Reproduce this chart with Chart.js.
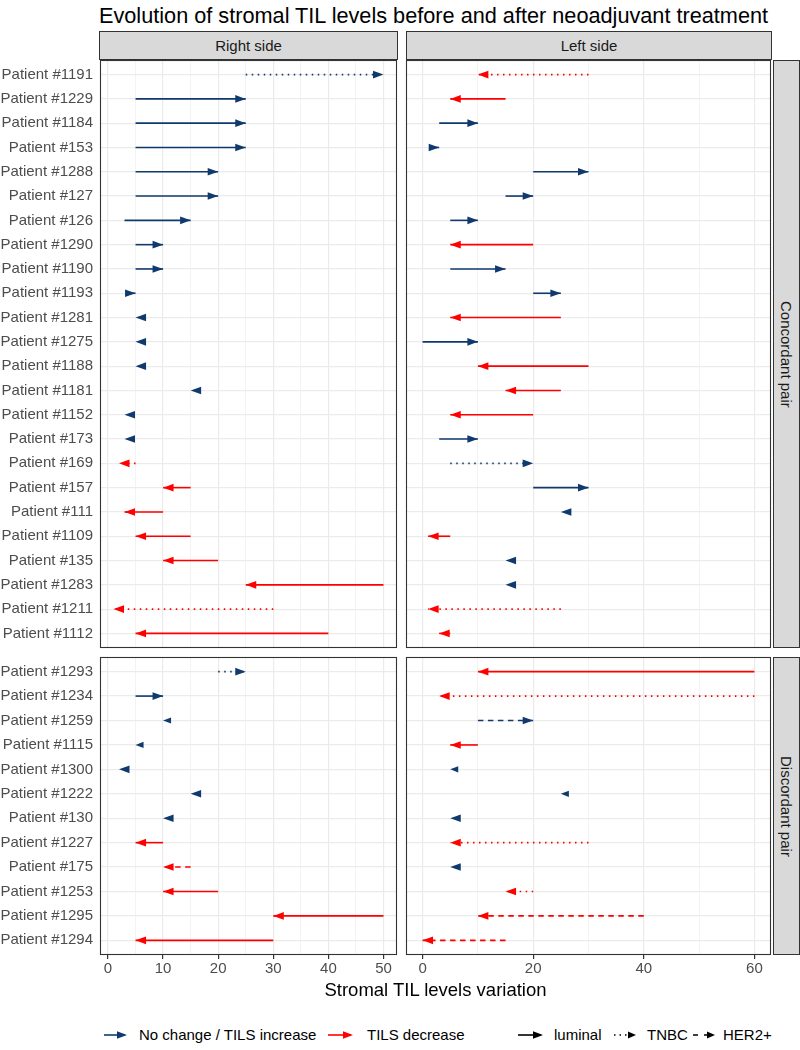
<!DOCTYPE html>
<html>
<head>
<meta charset="utf-8">
<script src="https://cdn.jsdelivr.net/npm/chart.js@4.4.0/dist/chart.umd.min.js"></script>
<style>
  body { margin: 0; background: #fff; font-family: "Liberation Sans", Arial, sans-serif; }
  #wrap { position: relative; width: 800px; height: 1050px; overflow: hidden; }
  #wrap canvas, .strip, .txt, .key { position: absolute; }
  .strip { background: #d9d9d9; border: 1px solid #333; box-sizing: border-box; color: #1a1a1a;
           font-size: 15px; display: flex; align-items: center; justify-content: center; }
  .vert { writing-mode: vertical-rl; }
  .txt { white-space: nowrap; color: #000; }
  .leg { font-size: 15px; top: 1026px; }
</style>
</head>
<body>
<div id="wrap">
  <div class="txt" style="left:99px; top:3px; font-size:21.7px;">Evolution of stromal TIL levels before and after neoadjuvant treatment</div>

  <div class="strip" style="left:99px; top:31px; width:299px; height:29px;">Right side</div>
  <div class="strip" style="left:406px; top:31px; width:366px; height:29px;">Left side</div>
  <div class="strip vert" style="left:773px; top:60px; width:27px; height:588px;">Concordant pair</div>
  <div class="strip vert" style="left:773px; top:657px; width:27px; height:298px;">Discordant pair</div>

  <canvas id="rc" width="400" height="594" style="left:0; top:57px;"></canvas>
  <canvas id="lc" width="369" height="594" style="left:403px; top:57px;"></canvas>
  <canvas id="rd" width="400" height="331" style="left:0; top:654px;"></canvas>
  <canvas id="ld" width="369" height="331" style="left:403px; top:654px;"></canvas>

  <div class="txt" style="left:0; width:871px; text-align:center; top:979px; font-size:18.5px;">Stromal TIL levels variation</div>

  <svg class="key" style="left:103px; top:1028px;" width="26" height="14"><line x1="1" y1="7" x2="22" y2="7" stroke="#103a6e" stroke-width="1.6"/><polygon points="24,7 14,3.2 14,10.8" fill="#103a6e"/></svg>
  <div class="txt leg" style="left:139px;">No change / TILS increase</div>
  <svg class="key" style="left:327px; top:1028px;" width="28" height="14"><line x1="1" y1="7" x2="24" y2="7" stroke="#ff0000" stroke-width="1.6"/><polygon points="26,7 16,3.2 16,10.8" fill="#ff0000"/></svg>
  <div class="txt leg" style="left:367px;">TILS decrease</div>
  <svg class="key" style="left:517px; top:1028px;" width="28" height="14"><line x1="1" y1="7" x2="24" y2="7" stroke="#000" stroke-width="1.6"/><polygon points="26,7 16,3.2 16,10.8" fill="#000"/></svg>
  <div class="txt leg" style="left:554px;">luminal</div>
  <svg class="key" style="left:612px; top:1028px;" width="26" height="14"><line x1="2" y1="7" x2="18" y2="7" stroke="#000" stroke-width="1.6" stroke-dasharray="1.5 4"/><polygon points="24,7 16,3.4 16,10.6" fill="#000"/></svg>
  <div class="txt leg" style="left:647px;">TNBC</div>
  <svg class="key" style="left:691px; top:1028px;" width="26" height="14"><line x1="2" y1="7" x2="18" y2="7" stroke="#000" stroke-width="1.6" stroke-dasharray="5 6"/><polygon points="24,7 16,3.4 16,10.6" fill="#000"/></svg>
  <div class="txt leg" style="left:723px;">HER2+</div>
</div>

<script>
// concordant pairs (same subtype on both sides)
const concordantPatients = ['Patient #1191', 'Patient #1229', 'Patient #1184', 'Patient #153', 'Patient #1288',
  'Patient #127', 'Patient #126', 'Patient #1290', 'Patient #1190', 'Patient #1193', 'Patient #1281',
  'Patient #1275', 'Patient #1188', 'Patient #1181', 'Patient #1152', 'Patient #173', 'Patient #169',
  'Patient #157', 'Patient #111', 'Patient #1109', 'Patient #135', 'Patient #1283', 'Patient #1211', 'Patient #1112'];
const concordantType = ['TNBC', 'luminal', 'luminal', 'luminal', 'luminal', 'luminal', 'luminal', 'luminal',
  'luminal', 'luminal', 'luminal', 'luminal', 'luminal', 'luminal', 'luminal', 'luminal', 'TNBC', 'luminal',
  'luminal', 'luminal', 'luminal', 'luminal', 'TNBC', 'luminal'];
const concordantRightBefore = [25, 5, 5, 5, 5, 5, 3, 5, 5, 4, 5, 5, 5, 15, 3, 3, 5, 15, 10, 15, 20, 50, 30, 40];
const concordantRightAfter  = [50, 25, 25, 25, 20, 20, 15, 10, 10, 5, 5, 5, 5, 15, 3, 3, 2, 10, 3, 5, 10, 25, 1, 5];
const concordantLeftBefore  = [30, 15, 3, 2, 20, 15, 5, 20, 5, 20, 25, 0, 30, 25, 20, 3, 5, 20, 25, 5, 15, 15, 25, 5];
const concordantLeftAfter   = [10, 5, 10, 3, 30, 20, 10, 5, 15, 25, 5, 10, 10, 15, 5, 10, 20, 30, 25, 1, 15, 15, 1, 3];

// discordant pairs (subtype differs between sides)
const discordantPatients = ['Patient #1293', 'Patient #1234', 'Patient #1259', 'Patient #1115', 'Patient #1300',
  'Patient #1222', 'Patient #130', 'Patient #1227', 'Patient #175', 'Patient #1253', 'Patient #1295', 'Patient #1294'];
const discordantRightType = ['TNBC', 'luminal', 'TNBC', 'TNBC', 'luminal', 'luminal', 'HER2+', 'luminal',
  'HER2+', 'luminal', 'luminal', 'luminal'];
const discordantRightBefore = [20, 5, 10, 5, 2, 15, 10, 10, 15, 20, 50, 30];
const discordantRightAfter  = [25, 10, 10, 5, 2, 15, 10, 5, 10, 10, 30, 5];
const discordantLeftType = ['luminal', 'TNBC', 'HER2+', 'luminal', 'TNBC', 'TNBC', 'luminal', 'TNBC',
  'luminal', 'TNBC', 'HER2+', 'HER2+'];
const discordantLeftBefore = [60, 60, 10, 10, 5, 25, 5, 30, 5, 20, 40, 15];
const discordantLeftAfter  = [10, 3, 20, 5, 5, 25, 5, 5, 5, 15, 10, 0];

const rightTicks = [0, 10, 20, 30, 40, 50];
const leftTicks = [0, 20, 40, 60];

const NAVY = '#103a6e';
const RED = '#ff0000';
const dashes = { 'luminal': [], 'TNBC': [1.5, 4.5], 'HER2+': [5.5, 4.5] };

// arrow heads at the "after" end of every segment
const arrowHeads = {
  id: 'arrowHeads',
  afterDatasetsDraw(chart) {
    const ctx = chart.ctx;
    const area = chart.chartArea;
    ctx.save();
    ctx.beginPath();
    ctx.rect(area.left, area.top, area.right - area.left, area.bottom - area.top);
    ctx.clip();
    chart.data.datasets.forEach((ds, i) => {
      const pts = chart.getDatasetMeta(i).data;
      const tip = pts[1];
      const dir = ds.data[1].x > ds.data[0].x ? 1 : -1;
      // zero-length dotted arrows get a thinner head, like in the original
      const small = ds.data[1].x === ds.data[0].x && ds.tumour === 'TNBC';
      const len = small ? 8 : 10.5;
      const half = small ? 3.1 : 3.8;
      ctx.fillStyle = ds.borderColor;
      ctx.beginPath();
      ctx.moveTo(tip.x, tip.y);
      ctx.lineTo(tip.x - dir * len, tip.y - half);
      ctx.lineTo(tip.x - dir * len, tip.y + half);
      ctx.closePath();
      ctx.fill();
    });
    ctx.restore();
  }
};

const panelBorder = {
  id: 'panelBorder',
  afterDraw(chart) {
    const a = chart.chartArea;
    const ctx = chart.ctx;
    ctx.save();
    ctx.strokeStyle = '#333333';
    ctx.lineWidth = 1.1;
    ctx.strokeRect(a.left + 0.5, a.top + 0.5, a.right - a.left - 1, a.bottom - a.top - 1);
    ctx.restore();
  }
};

function makePanel(id, patients, before, after, types, majors, minorStep, xMin, xMax, showY, showX, pad) {
  const minorTicks = [];
  for (let v = majors[0]; v <= majors[majors.length - 1]; v += minorStep) minorTicks.push(v);
  const isMajor = (v) => majors.includes(v);

  const datasets = patients.map((p, i) => ({
    label: p,
    tumour: types[i],
    data: [{ x: before[i], y: i }, { x: after[i], y: i }],
    showLine: true,
    borderColor: after[i] < before[i] ? RED : NAVY,
    borderWidth: 1.6,
    borderDash: dashes[types[i]],
    pointRadius: 0,
    fill: false
  }));

  new Chart(document.getElementById(id), {
    type: 'scatter',
    data: { datasets: datasets },
    options: {
      responsive: false,
      animation: false,
      events: [],
      layout: { padding: pad },
      plugins: { legend: { display: false }, tooltip: { enabled: false } },
      scales: {
        x: {
          type: 'linear',
          min: xMin,
          max: xMax,
          afterBuildTicks: (scale) => { scale.ticks = minorTicks.map(v => ({ value: v })); },
          afterFit: (scale) => {
            scale.height = showX ? 30 : 0;
            scale.paddingLeft = 0;
            scale.paddingRight = 0;
          },
          border: { display: false },
          grid: {
            color: '#ebebeb',
            lineWidth: (c) => (c.tick && isMajor(c.tick.value)) ? 1.2 : 0.6,
            drawTicks: showX,
            tickLength: 4,
            tickColor: (c) => (c.tick && isMajor(c.tick.value)) ? '#333333' : 'rgba(0,0,0,0)'
          },
          ticks: {
            display: showX,
            autoSkip: false,
            maxRotation: 0,
            padding: 1,
            color: '#4d4d4d',
            font: { family: 'Liberation Sans', size: 15 },
            callback: (v) => isMajor(v) ? String(v) : ''
          }
        },
        y: {
          type: 'linear',
          reverse: true,
          min: -0.6,
          max: patients.length - 0.4,
          afterBuildTicks: (scale) => { scale.ticks = patients.map((_, i) => ({ value: i })); },
          afterFit: (scale) => {
            scale.width = showY ? 100 : 0;
            scale.paddingTop = 0;
            scale.paddingBottom = 0;
          },
          border: { display: false },
          grid: { color: '#ebebeb', lineWidth: 1.2, drawTicks: false },
          ticks: {
            display: showY,
            autoSkip: false,
            padding: 7,
            color: '#4d4d4d',
            font: { family: 'Liberation Sans', size: 15 },
            callback: (v) => patients[v]
          }
        }
      }
    },
    plugins: [arrowHeads, panelBorder]
  });
}

makePanel('rc', concordantPatients, concordantRightBefore, concordantRightAfter, concordantType,
  rightTicks, 5, -1.45, 52.45, true, false, { left: 0, top: 3, right: 3, bottom: 3 });
makePanel('lc', concordantPatients, concordantLeftBefore, concordantLeftAfter, concordantType,
  leftTicks, 10, -3, 63, false, false, { left: 3, top: 3, right: 1, bottom: 3 });
makePanel('rd', discordantPatients, discordantRightBefore, discordantRightAfter, discordantRightType,
  rightTicks, 5, -1.45, 52.45, true, true, { left: 0, top: 3, right: 3, bottom: 0 });
makePanel('ld', discordantPatients, discordantLeftBefore, discordantLeftAfter, discordantLeftType,
  leftTicks, 10, -3, 63, false, true, { left: 3, top: 3, right: 1, bottom: 0 });
</script>
</body>
</html>
